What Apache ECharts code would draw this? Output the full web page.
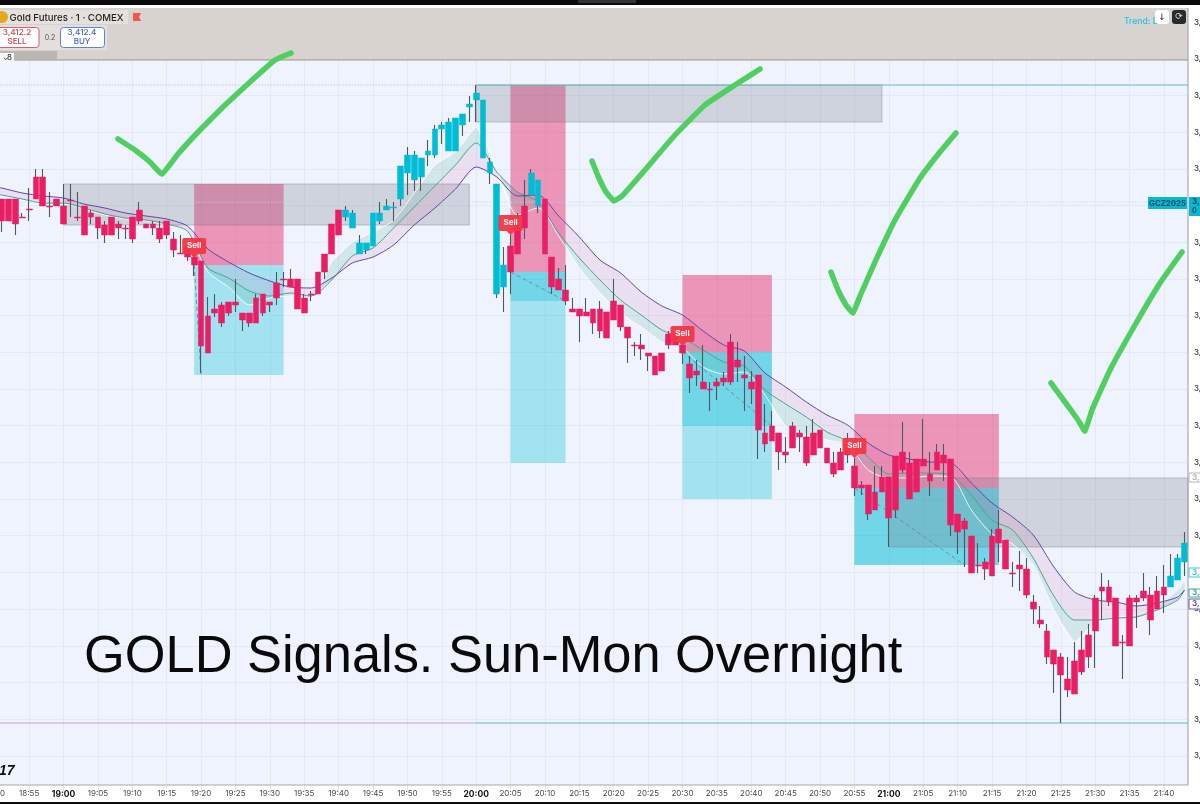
<!DOCTYPE html>
<html><head><meta charset="utf-8">
<style>html,body{margin:0;padding:0;background:#fff}#c{width:1200px;height:804px}</style>
<script src="https://cdn.jsdelivr.net/npm/echarts@6/dist/echarts.min.js"></script>
</head><body><div id="c"></div>
<script>
const startMinute = 18*60+50, candleCount = 174;
const times = [];
for (let k=0;k<candleCount;k++){const m=startMinute+k;times.push(String(Math.floor(m/60)).padStart(2,'0')+':'+String(m%60).padStart(2,'0'));}

const opens = [3411.9,3411.9,3411.9,3411.9,3410.1,3410.9,3414.1,3414.1,3411.2,3411.9,3411.2,3411.8,3410.1,3411.2,3410.5,3410.1,3409.3,3410.1,3409.4,3409.0,3410.1,3410.8,3409.4,3409.4,3409.0,3409.7,3407.9,3406.5,3407.2,3406.1,3405.7,3400.2,3400.9,3401.3,3401.6,3401.6,3400.5,3400.5,3402.0,3402.4,3401.6,3403.5,3403.9,3403.9,3403.9,3402.0,3402.4,3404.6,3406.4,3409.4,3410.8,3410.1,3409.0,3406.4,3406.8,3407.2,3409.7,3410.8,3411.0,3411.9,3414.5,3413.8,3414.1,3416.3,3416.3,3418.9,3416.7,3416.7,3419.3,3421.1,3421.8,3416.0,3414.5,3402.4,3403.1,3407.2,3409.0,3411.2,3412.3,3411.2,3411.9,3406.1,3403.9,3402.8,3400.9,3400.9,3400.6,3400.9,3400.9,3400.6,3401.7,3401.3,3399.1,3397.3,3397.3,3396.5,3396.2,3396.5,3398.4,3398.4,3397.3,3395.4,3394.7,3393.6,3392.9,3393.6,3394.0,3397.6,3395.8,3394.3,3393.6,3394.3,3388.5,3389.2,3388.5,3386.6,3389.2,3388.5,3388.1,3388.5,3388.8,3387.0,3385.5,3386.6,3387.4,3385.2,3383.3,3383.3,3382.6,3384.1,3384.1,3386.2,3386.6,3385.5,3385.9,3385.9,3384.4,3386.6,3386.3,3385.9,3380.4,3379.7,3378.2,3375.3,3375.6,3378.2,3378.9,3377.8,3374.5,3375.3,3374.9,3371.6,3369.8,3368.7,3366.8,3366.1,3363.9,3365.7,3366.8,3368.3,3372.0,3373.1,3373.1,3372.0,3367.6,3372.0,3372.0,3372.7,3372.3,3372.7,3373.1,3373.1,3373.8,3375.6];
const closes = [3409.7,3409.7,3409.7,3409.4,3410.0,3410.8,3411.9,3411.2,3411.1,3411.2,3409.4,3411.7,3410.0,3408.3,3410.1,3409.0,3408.3,3408.3,3409.0,3408.9,3407.9,3409.7,3409.0,3409.0,3407.9,3408.3,3406.8,3406.4,3406.1,3405.3,3397.2,3396.5,3400.5,3399.5,3400.5,3401.3,3399.8,3399.5,3399.5,3400.5,3401.3,3402.0,3403.8,3403.1,3400.9,3400.5,3402.3,3402.4,3404.6,3406.4,3408.3,3410.8,3410.5,3407.5,3407.5,3410.5,3410.5,3411.2,3411.1,3415.2,3416.3,3416.3,3416.0,3416.7,3418.9,3419.3,3419.6,3420.0,3420.4,3421.4,3422.5,3421.8,3415.6,3413.4,3405.3,3404.6,3406.4,3409.0,3414.5,3413.8,3406.4,3403.1,3402.8,3401.7,3400.6,3400.2,3400.2,3399.5,3398.7,3398.0,3399.8,3399.1,3398.0,3397.2,3396.9,3396.2,3394.3,3394.7,3397.3,3397.3,3396.5,3394.0,3394.3,3392.9,3392.8,3393.2,3393.6,3393.6,3395.1,3394.0,3392.9,3388.8,3387.4,3387.7,3386.6,3386.3,3387.0,3388.1,3385.5,3386.3,3387.0,3385.5,3384.4,3384.8,3386.3,3383.0,3383.0,3380.4,3380.8,3382.6,3380.0,3380.8,3384.8,3381.9,3382.6,3385.2,3383.7,3384.8,3385.5,3379.3,3378.6,3378.9,3374.5,3375.2,3374.9,3374.2,3377.5,3374.9,3374.4,3374.9,3372.3,3370.9,3369.4,3366.1,3365.4,3364.3,3362.8,3362.4,3364.6,3366.1,3368.7,3372.7,3371.6,3367.2,3367.5,3367.2,3371.6,3372.0,3369.8,3370.9,3372.3,3374.2,3376.0,3377.5];
const highs = [3411.9,3411.9,3411.9,3411.9,3410.5,3413.0,3414.9,3414.9,3412.6,3411.9,3413.4,3413.4,3412.6,3411.2,3410.8,3410.1,3409.7,3410.1,3409.7,3409.3,3410.1,3411.6,3409.4,3409.7,3409.7,3409.7,3408.6,3408.3,3407.5,3406.7,3405.7,3402.1,3402.4,3401.6,3401.6,3403.9,3400.5,3400.5,3402.4,3402.4,3401.6,3404.6,3404.6,3404.9,3403.9,3402.4,3402.7,3404.6,3406.4,3409.4,3410.8,3411.2,3410.8,3408.3,3407.5,3410.5,3411.6,3411.9,3411.6,3415.2,3417.1,3416.7,3416.0,3417.8,3419.3,3419.6,3420.0,3420.0,3420.4,3422.2,3423.3,3421.8,3416.0,3413.4,3407.1,3408.3,3410.5,3413.8,3414.9,3413.8,3411.9,3406.1,3405.0,3405.3,3402.0,3400.9,3402.0,3400.9,3401.7,3400.6,3403.9,3401.3,3399.1,3397.6,3398.4,3396.5,3396.2,3396.5,3398.7,3398.4,3397.3,3396.2,3395.8,3397.3,3393.6,3394.0,3394.6,3398.4,3397.6,3396.2,3394.7,3394.3,3391.4,3390.7,3388.5,3388.1,3389.6,3388.8,3389.2,3389.9,3388.8,3387.0,3386.6,3387.0,3388.5,3386.0,3383.7,3383.3,3385.2,3385.2,3384.1,3386.2,3389.6,3386.6,3385.9,3389.9,3386.6,3387.4,3387.4,3385.9,3380.4,3380.0,3378.2,3377.5,3376.0,3378.9,3380.8,3377.8,3375.6,3376.7,3376.0,3372.3,3371.2,3369.4,3366.8,3366.5,3366.1,3367.6,3368.7,3369.4,3372.3,3374.5,3373.8,3372.0,3368.3,3372.3,3372.3,3374.5,3373.1,3374.2,3375.3,3376.4,3376.4,3378.6];
const lows = [3409.7,3408.6,3409.7,3408.3,3410.0,3409.7,3411.9,3411.2,3410.1,3411.2,3409.4,3410.1,3409.7,3408.3,3409.4,3407.9,3407.5,3408.3,3407.9,3407.9,3407.5,3409.4,3409.0,3408.3,3407.5,3407.9,3406.1,3406.4,3405.7,3404.2,3394.5,3396.5,3400.1,3399.1,3400.2,3400.6,3398.7,3399.1,3399.5,3400.2,3400.6,3401.3,3403.1,3403.1,3400.9,3400.5,3401.7,3402.4,3403.9,3406.4,3408.3,3409.7,3409.0,3406.4,3406.4,3407.2,3409.4,3410.8,3409.7,3411.2,3412.3,3412.7,3412.7,3415.2,3416.0,3417.4,3416.7,3416.7,3418.2,3419.6,3419.6,3416.0,3413.4,3402.0,3400.6,3402.4,3406.4,3407.9,3412.3,3410.5,3406.4,3402.4,3402.8,3401.3,3400.6,3397.6,3400.2,3398.4,3398.0,3398.0,3399.8,3398.7,3395.5,3396.2,3395.8,3394.7,3394.3,3394.7,3396.9,3397.3,3395.4,3392.5,3393.2,3392.9,3390.7,3391.8,3393.2,3393.3,3393.6,3390.7,3391.4,3385.9,3386.6,3387.7,3384.8,3385.5,3387.0,3386.6,3385.2,3386.3,3387.0,3385.5,3384.1,3384.8,3385.5,3382.2,3382.3,3379.8,3380.8,3382.6,3377.1,3380.0,3384.5,3381.9,3382.6,3385.2,3382.2,3384.8,3383.7,3378.2,3376.4,3375.1,3374.5,3374.5,3373.8,3374.2,3375.6,3374.9,3373.1,3372.7,3372.0,3369.4,3369.0,3365.4,3362.5,3359.5,3362.1,3362.4,3364.3,3365.0,3365.0,3369.8,3371.2,3367.2,3363.9,3367.2,3369.0,3371.7,3368.3,3370.9,3370.5,3373.1,3373.8,3374.2];

const emaIndex = [0,1,4,7,10,13,16,19,22,25,28,31,34,37,40,43,46,49,52,55,58,61,64,67,70,73,76,79,82,85,88,91,94,97,100,103,106,109,112,115,118,121,124,127,130,133,136,139,142,145,148,151,154,157,160,163,166,169,172,173];
const emaSlow = [3413.1,3413.0,3412.5,3412.2,3412.0,3411.4,3411.0,3410.5,3410.2,3409.9,3409.2,3406.9,3405.6,3404.5,3403.7,3403.1,3403.0,3404.0,3405.5,3406.1,3407.3,3409.3,3411.0,3412.9,3415.1,3414.1,3412.2,3412.3,3410.2,3408.1,3405.8,3404.5,3402.6,3401.2,3400.3,3398.7,3397.3,3396.7,3394.5,3393.1,3391.6,3390.3,3389.3,3387.5,3386.3,3385.9,3385.6,3385.5,3383.5,3381.5,3380.1,3378.3,3375.1,3372.6,3371.8,3371.6,3371.2,3371.5,3372.1,3372.8];
const emaMid = [3412.4,3412.3,3411.9,3411.5,3411.5,3411.0,3410.4,3410.0,3409.8,3409.4,3408.7,3405.0,3404.0,3402.7,3402.2,3402.5,3402.2,3403.8,3406.2,3407.0,3409.0,3411.1,3413.2,3415.3,3417.5,3414.6,3412.6,3411.6,3408.5,3406.0,3403.8,3401.8,3400.3,3398.8,3398.0,3396.8,3395.6,3395.2,3392.8,3391.4,3390.1,3388.6,3387.7,3386.1,3384.4,3384.5,3384.5,3384.3,3382.3,3379.8,3378.8,3376.0,3372.2,3369.8,3369.8,3370.0,3370.1,3370.8,3371.8,3372.8];
const emaFast = [3412.3,3412.2,3411.8,3411.4,3411.4,3410.9,3410.3,3409.9,3409.7,3409.3,3408.6,3404.6,3403.1,3401.3,3402.0,3402.2,3402.0,3405.6,3407.6,3408.6,3409.8,3412.5,3415.3,3416.6,3419.1,3414.8,3410.3,3411.0,3408.2,3405.0,3402.5,3400.5,3399.1,3397.6,3397.0,3395.1,3394.4,3394.6,3392.3,3389.2,3388.3,3387.8,3387.3,3384.8,3384.0,3384.0,3384.2,3384.1,3380.8,3378.4,3377.4,3375.3,3370.8,3367.6,3369.6,3370.1,3370.3,3371.2,3372.8,3373.8];

const supplyZones = [['19:00','19:59',3413.4,3409.3],['20:00','20:59',3423.3,3419.6],['21:00',174,3384.0,3377.1]];
const riskZones = [['19:19','19:32',3413.4,3405.3],['20:05','20:13',3423.3,3404.6],['20:30','20:43',3404.3,3396.6],['20:55','21:16',3390.4,3383.0]];
const targetZones = [['19:19','19:32',3405.3,3394.3],['20:05','20:13',3404.6,3385.5],['20:30','20:43',3396.6,3381.9],['20:55','21:16',3383.0,3375.3]];
const firstTargetZones = [['20:05','20:13',3404.6,3401.7],['20:30','20:43',3396.6,3389.2]];
const deepZones = [['20:55','21:16',3383.0,3375.3]];
const sellSignals = [['19:19',3407.0],['20:05',3409.3],['20:30',3398.2],['20:55',3387.0]];
const tradePaths = [['19:19',3405.3,'19:20',3394.3],['20:05',3404.6,'20:13',3401.7],['20:30',3396.6,'20:43',3389.2],['20:55',3383.0,'21:11',3375.3]];
const levelLines = [['18:50','20:00',3423.3,'#b6b3d6',[1,2]],['20:00',174,3423.3,'#5bbcc6',null],['18:50',174,3411.6,'#a9dcec',[1,2]],['18:50','20:00',3359.5,'#cba0dc',null],['20:00',174,3359.5,'#5bbcc6',null]];

function sparse(arr){const out=new Array(candleCount).fill(null);emaIndex.forEach((ix,k)=>{out[ix]=arr[k];});return out;}
function ix(s){return typeof s==='string'?times.indexOf(s):s;}

const ZONE_TEAL='rgba(0,188,212,0.315)',ZONE_PINK='rgba(233,30,99,0.44)',ZONE_GREY='rgba(120,120,130,0.26)';
const zoneRows=[].concat(
  targetZones.map(z=>z.concat([ZONE_TEAL,null])),
  firstTargetZones.map(z=>z.concat([ZONE_TEAL,null])),
  deepZones.map(z=>z.concat([ZONE_TEAL,null])),
  riskZones.map(z=>z.concat([ZONE_PINK,null])),
  supplyZones.map(z=>z.concat([ZONE_GREY,'rgba(130,130,140,0.45)']))
);
function renderZone(params,api){
  const z=zoneRows[params.dataIndex],area=params.coordSys;
  const a=api.coord([ix(z[0]),z[2]]),b=api.coord([ix(z[1]),z[3]]);
  const right=Math.min(b[0],area.x+area.width);
  return {type:'rect',shape:{x:a[0],y:a[1],width:right-a[0],height:b[1]-a[1]},style:{fill:z[4],stroke:z[5],lineWidth:z[5]?1:0}};
}
function renderLevel(params,api){
  const l=levelLines[params.dataIndex],area=params.coordSys;
  const a=api.coord([ix(l[0]),l[2]]),b=api.coord([ix(l[1]),l[2]]);
  return {type:'line',shape:{x1:a[0],y1:a[1],x2:Math.min(b[0],area.x+area.width),y2:b[1]},style:{stroke:l[3],lineWidth:1,lineDash:l[4]}};
}
function renderPath(params,api){
  const p=tradePaths[params.dataIndex];
  const a=api.coord([ix(p[0]),p[1]]),b=api.coord([ix(p[2]),p[3]]);
  return {type:'line',shape:{x1:a[0],y1:a[1],x2:b[0],y2:b[1]},style:{stroke:'#6f8f9c',lineWidth:1,lineDash:[4,3]}};
}
function renderBand(upper,lower,fill){
  return function(params,api){
    if(params.dataIndex!==0) return null;
    const top=emaIndex.map((i,k)=>api.coord([i,upper[k]]));
    const bot=emaIndex.map((i,k)=>api.coord([i,lower[k]])).reverse();
    return {type:'polygon',shape:{points:top.concat(bot)},style:{fill}};
  };
}

const gridLine={color:'#e3e8f3',width:1};
const LINE={type:'line',showSymbol:false,symbol:'none',connectNulls:true,smooth:0.25,silent:true,animation:false};
const CUSTOM={type:'custom',silent:true,animation:false,clip:true};
const FONT='Inter, "Noto Sans", sans-serif';
function check(pts){return {type:'polyline',z:30,shape:{points:pts,smooth:0.1},style:{stroke:'#4fcf60',lineWidth:5.5,fill:null,lineCap:'round',lineJoin:'round'}};}
function rect(x,y,w,h,fill,z,extra){return {type:'rect',z:z===undefined?6:z,shape:Object.assign({x,y,width:w,height:h},extra&&extra.shape),style:Object.assign({fill},extra&&extra.style)};}
function txt(x,y,t,size,color,weight,align,family){return {type:'text',z:8,x,y,style:{text:t,font:(weight||'normal')+' '+size+'px '+(family||FONT),fill:color,textAlign:align||'left',textVerticalAlign:'middle'}};}
function tag(y,h,border,t){return [rect(1189,y,14,h,'#fff',7,{style:{stroke:border,lineWidth:1}}),txt(1192,y+h/2,t,8,border,'bold')];}

const graphicEls=[
  rect(0,60,1188,725,'#eef3fe',-1),
  rect(0,8,1188,52,'rgba(211,205,200,0.88)',0.5),
  rect(0,59.5,1188,1,'#9c9684',6),
  rect(0,10,128,14,'#e4e0dc',6),
  rect(0,25,107,25,'#e2dfdc',6),
  rect(0,51,57,8,'#bab6b2',6),
  rect(0,53,14,10,'#f6f6f8',7),
  txt(3,58,'⌄',7,'#333'),txt(7,58,'8',8,'#222'),
  {type:'circle',z:7,shape:{cx:2,cy:17,r:6},style:{fill:'#e5a91c'}},
  txt(9.5,18,'Gold Futures · 1 · COMEX',9.6,'#222','500'),
  {type:'polygon',z:7,shape:{points:[[133,13],[141,13],[139,17],[141,21],[133,21]]},style:{fill:'#f0564e'}},
  rect(-4,27.5,43,20,'#fff',7,{shape:{r:3},style:{stroke:'#e35b6b',lineWidth:1}}),
  txt(17,32.5,'3,412.2',8.2,'#e0384c','500','center'),txt(17,42,'SELL',8,'#e0384c','500','center'),
  txt(50,37.5,'0.2',7,'#555','normal','center'),
  rect(60.5,27.5,44,20,'#fff',7,{shape:{r:3},style:{stroke:'#5d7fe6',lineWidth:1}}),
  txt(82,32.5,'3,412.4',8.2,'#3f63d8','500','center'),txt(82,42,'BUY',8,'#3f63d8','500','center'),
  rect(1121,15,34,12,'#cfd6d6',6),
  txt(1124,21,'Trend: L',8.6,'#3fb6cd','500'),
  rect(1155,10,14,14,'#fff',7,{shape:{r:3}}),
  txt(1162,17.5,'↓',9,'#555','bold','center','"DejaVu Sans"'),
  rect(1172,10,14,14,'#2a2a2a',7,{shape:{r:3}}),
  txt(1179,17,'⟳',9,'#ddd','normal','center','"DejaVu Sans"'),
  rect(0,0,1200,5,'#0b0b0b',9),
  rect(578,0,58,3,'#333',10),
  rect(0,802,1200,2,'#0b0b0b',9),
  rect(1187.5,8,1,777,'#9b9b9b',6),
  rect(0,784.5,1188,1,'#a8a8a8',6),
  rect(1148,197,39,12,'#08b6d2',7),
  txt(1167.5,203.2,'GCZ2025',7.8,'#0d4f60','bold','center'),
  rect(1189,197,14,19,'#08b6d2',7),
  txt(1192,202,'3,',8,'#0d4f60','bold'),txt(1192,211,'0',7,'#0d4f60','bold'),
  ...tag(473,9,'#b7b7b7','3,'),
  ...tag(568,9,'#45c8d8','3,'),
  ...tag(589,8,'#4aa898','3,'),
  ...tag(599,10,'#6a5aa8','3,'),
  check([[118,139],[135,150],[150,162],[162,174],[178,154],[200,130],[225,105],[250,82],[275,60],[291,53]]),
  check([[592,161],[598,176],[606,192],[614,201],[622,196],[645,170],[675,135],[705,105],[735,85],[760,69]]),
  check([[831,272],[838,290],[846,305],[853,313],[860,296],[875,262],[895,220],[920,178],[940,152],[956,133]]),
  check([[1051,383],[1065,402],[1078,420],[1085,431],[1092,410],[1110,370],[1135,325],[1160,283],[1182,252]]),
  {type:'text',z:30,x:84,y:658,style:{text:'GOLD Signals. Sun-Mon Overnight',font:'52.4px "Liberation Sans", Arial, sans-serif',fill:'#0a0a0a',textVerticalAlign:'middle'}},
  {type:'text',z:8,x:-1,y:771,style:{text:'17',font:'italic bold 14px "Liberation Sans", sans-serif',fill:'#111',textVerticalAlign:'middle'}}
];

const chart=echarts.init(document.getElementById('c'),null,{renderer:'canvas'});
chart.setOption({
  animation:false,backgroundColor:'#ffffff',
  grid:{left:-8.7,right:12,top:8,bottom:11.52,show:false,outerBoundsMode:'none',containLabel:false},
  xAxis:{type:'category',data:times,boundaryGap:true,
    axisLine:{show:false},axisTick:{show:false},
    splitLine:{show:true,interval:4,alignWithLabel:true,lineStyle:gridLine},
    axisLabel:{interval:4,margin:-3,hideOverlap:false,showMinLabel:true,color:'#4a4a4a',fontFamily:FONT,fontSize:8,
      formatter:v=>v.endsWith(':00')?'{b|'+v+'}':v,rich:{b:{fontWeight:'bold',fontSize:8.5,color:'#111',fontFamily:FONT}}}},
  yAxis:{type:'value',position:'right',min:3352.552,max:3431.0,interval:3.668,scale:true,
    axisLine:{show:false},axisTick:{show:false},
    splitLine:{show:true,showMinLine:false,showMaxLine:false,lineStyle:gridLine},
    axisLabel:{margin:6,showMinLabel:false,showMaxLabel:false,color:'#333',fontFamily:FONT,fontWeight:'500',fontSize:8,formatter:()=>'3,'}},
  graphic:{elements:graphicEls},
  series:[
    Object.assign({},CUSTOM,{name:'zones',z:1,renderItem:renderZone,data:zoneRows.map((z,k)=>[k,z[2]])}),
    Object.assign({},CUSTOM,{name:'bandSlowMid',z:1.5,renderItem:renderBand(emaSlow,emaMid,'rgba(220,60,140,0.10)'),data:emaIndex.map((i,k)=>[i,emaSlow[k]])}),
    Object.assign({},CUSTOM,{name:'bandMidFast',z:1.5,renderItem:renderBand(emaMid,emaFast,'rgba(70,170,130,0.16)'),data:emaIndex.map((i,k)=>[i,emaMid[k]])}),
    Object.assign({},CUSTOM,{name:'levels',z:1.7,renderItem:renderLevel,data:levelLines.map((l,k)=>[k,l[2]])}),
    Object.assign({},CUSTOM,{name:'paths',z:1.7,renderItem:renderPath,data:tradePaths.map((p,k)=>[k,p[1]])}),
    Object.assign({},LINE,{name:'EMA fast',z:1.6,data:sparse(emaFast),lineStyle:{color:'rgba(255,255,255,0.85)',width:1}}),
    Object.assign({},LINE,{name:'EMA mid',z:1.6,data:sparse(emaMid),lineStyle:{color:'#4f9f92',width:1}}),
    Object.assign({},LINE,{name:'EMA slow',z:1.6,data:sparse(emaSlow),lineStyle:{color:'#5c4a9e',width:1}}),
    {type:'candlestick',name:'wicks',z:2,barWidth:1,silent:true,
      data:times.map((_,k)=>[opens[k],closes[k],lows[k],highs[k]]),
      itemStyle:{color:'#50575f',color0:'#50575f',borderColor:'#50575f',borderColor0:'#50575f',borderWidth:1.1}},
    {type:'candlestick',name:'bodies',z:3,barWidth:6.3,silent:true,
      data:times.map((_,k)=>[opens[k],closes[k],Math.min(opens[k],closes[k]),Math.max(opens[k],closes[k])]),
      itemStyle:{color:'#00bcd4',color0:'#e91e63',borderColor:'#00bcd4',borderColor0:'#e91e63',borderWidth:0.5},
      markPoint:{silent:true,z:5,animation:false,symbol:'path://M2 0H22a2 2 0 0 1 2 2V14a2 2 0 0 1-2 2H16L12 20L8 16H2a2 2 0 0 1-2-2V2a2 2 0 0 1 2-2Z',symbolSize:[24,20],
        itemStyle:{color:'#f23645',opacity:0.95},
        label:{show:true,formatter:'Sell',color:'#fff',fontSize:8,fontWeight:'bold',fontFamily:FONT,offset:[0,-2]},
        data:sellSignals.map(s=>({xAxis:s[0],yAxis:s[1]}))}}
  ]
});
</script></body></html>
